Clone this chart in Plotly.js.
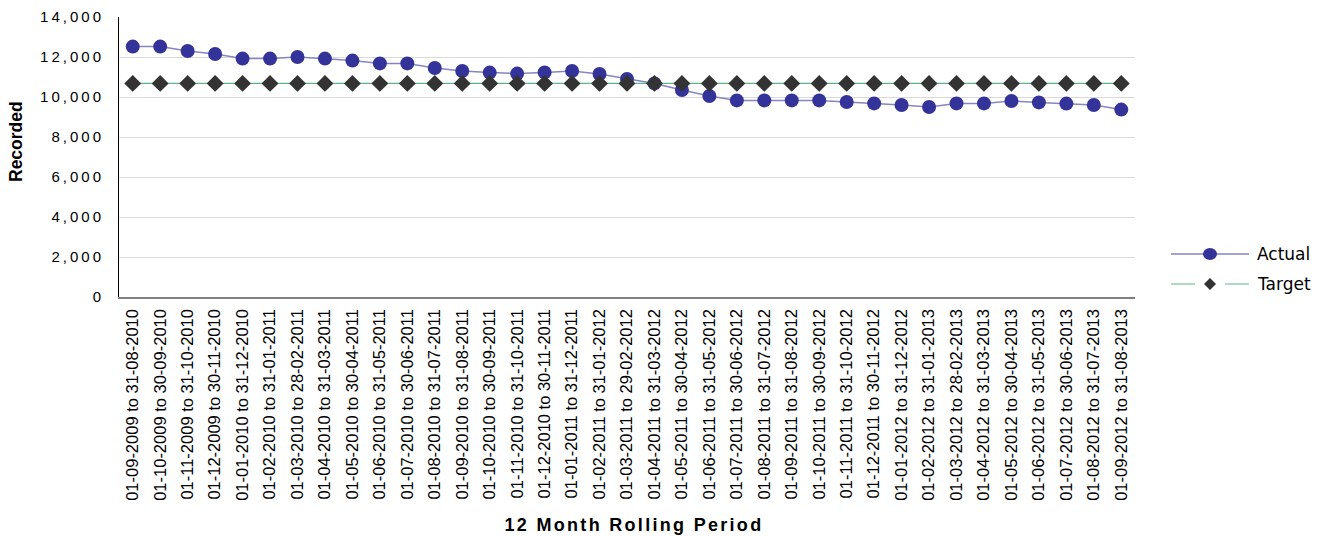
<!DOCTYPE html>
<html>
<head>
<meta charset="utf-8">
<script src="https://cdn.plot.ly/plotly-3.0.1.min.js"></script>
<style>
html,body{margin:0;padding:0;background:#fff;}
#chart{width:1329px;height:536px;}
.ytick text{letter-spacing:3px;}
.annotation[data-index="1"] .annotation-text{letter-spacing:2.3px;}
</style>
</head>
<body>
<div id="chart"></div>
<script>
const periods = [
"01-09-2009 to 31-08-2010","01-10-2009 to 30-09-2010","01-11-2009 to 31-10-2010","01-12-2009 to 30-11-2010",
"01-01-2010 to 31-12-2010","01-02-2010 to 31-01-2011","01-03-2010 to 28-02-2011","01-04-2010 to 31-03-2011",
"01-05-2010 to 30-04-2011","01-06-2010 to 31-05-2011","01-07-2010 to 30-06-2011","01-08-2010 to 31-07-2011",
"01-09-2010 to 31-08-2011","01-10-2010 to 30-09-2011","01-11-2010 to 31-10-2011","01-12-2010 to 30-11-2011",
"01-01-2011 to 31-12-2011","01-02-2011 to 31-01-2012","01-03-2011 to 29-02-2012","01-04-2011 to 31-03-2012",
"01-05-2011 to 30-04-2012","01-06-2011 to 31-05-2012","01-07-2011 to 30-06-2012","01-08-2011 to 31-07-2012",
"01-09-2011 to 31-08-2012","01-10-2011 to 30-09-2012","01-11-2011 to 31-10-2012","01-12-2011 to 30-11-2012",
"01-01-2012 to 31-12-2012","01-02-2012 to 31-01-2013","01-03-2012 to 28-02-2013","01-04-2012 to 31-03-2013",
"01-05-2012 to 30-04-2013","01-06-2012 to 31-05-2013","01-07-2012 to 30-06-2013","01-08-2012 to 31-07-2013",
"01-09-2012 to 31-08-2013"
];
const actual = [12520,12520,12300,12150,11920,11920,12000,11920,11820,11680,11680,11450,11300,11220,11170,11230,
  11300,11150,10900,10680,10350,10050,9830,9830,9830,9830,9750,9680,9600,9500,9680,9680,9800,9730,9670,9600,9370];
const target = periods.map(() => 10680);
const seriesNames = ['Actual', 'Target'];
const yTitle = 'Recorded';
const xTitle = '12 Month Rolling Period';

const ML = 119, MR = 194, MT = 17, MB = 239, W = 1329, H = 536;
const PW = W - ML - MR, PH = H - MT - MB;
const px = v => (v - ML) / PW;
const py = v => (H - MB - v) / PH;

const actualLine = '#8585c2', actualMarker = '#333399';
const targetLine = '#5fb38a', targetMarker = '#333333';

const data = [
  {x: periods, y: actual, name: seriesNames[0], type: 'scatter', mode: 'lines+markers',
   line: {color: actualLine, width: 1.5},
   marker: {symbol: 'circle', size: 14, color: actualMarker}},
  {x: periods, y: target, name: seriesNames[1], type: 'scatter', mode: 'lines+markers',
   line: {color: targetLine, width: 1.2},
   marker: {symbol: 'diamond', size: 13, color: targetMarker}}
];

const legY = [254, 284];
const layout = {
  width: W, height: H,
  margin: {l: ML, r: MR, t: MT, b: MB},
  paper_bgcolor: '#fff', plot_bgcolor: '#fff',
  showlegend: false,
  xaxis: {
    type: 'category', tickangle: -90, showgrid: false, ticks: '',
    showline: true, linecolor: '#808080', linewidth: 1.5,
    tickfont: {family: 'Liberation Sans, Arial, sans-serif', size: 16.5, color: '#000'},
    ticklabelstandoff: 4,
    range: [-0.5, 36.5]
  },
  yaxis: {
    range: [0, 14000], dtick: 2000, tickformat: ',d',
    showgrid: true, gridcolor: '#d9d9d9', gridwidth: 1,
    showline: true, linecolor: '#000', linewidth: 1, zeroline: false, ticks: '',
    tickfont: {family: 'Liberation Sans, Arial, sans-serif', size: 15, color: '#000'},
    ticklabelstandoff: 11
  },
  annotations: [
    {text: '<b>' + yTitle + '</b>', xref: 'paper', yref: 'paper', x: px(16), y: py(142),
     xanchor: 'center', yanchor: 'middle', textangle: -90, showarrow: false,
     font: {family: 'Liberation Sans, Arial, sans-serif', size: 17.5, color: '#000'}},
    {text: '<b>' + xTitle + '</b>', xref: 'paper', yref: 'paper', x: px(634), y: py(525),
     xanchor: 'center', yanchor: 'middle', showarrow: false,
     font: {family: 'Liberation Sans, Arial, sans-serif', size: 18, color: '#000'}},
    {text: seriesNames[0], xref: 'paper', yref: 'paper', x: px(1255), y: py(legY[0]),
     xanchor: 'left', yanchor: 'middle', showarrow: false,
     font: {family: 'DejaVu Sans, sans-serif', size: 17, color: '#000'}},
    {text: seriesNames[1], xref: 'paper', yref: 'paper', x: px(1255), y: py(legY[1]),
     xanchor: 'left', yanchor: 'middle', showarrow: false,
     font: {family: 'DejaVu Sans, sans-serif', size: 17, color: '#000'}}
  ],
  shapes: [
    {type: 'line', xref: 'paper', yref: 'paper', x0: px(1171), x1: px(1249), y0: py(legY[0]), y1: py(legY[0]),
     line: {color: actualLine, width: 1.5}},
    {type: 'circle', xref: 'paper', yref: 'paper', xsizemode: 'pixel', ysizemode: 'pixel',
     xanchor: px(1210), yanchor: py(legY[0]), x0: -7, x1: 7, y0: -6, y1: 6,
     fillcolor: actualMarker, line: {width: 0}},
    {type: 'line', xref: 'paper', yref: 'paper', x0: px(1171), x1: px(1249), y0: py(legY[1]), y1: py(legY[1]),
     line: {color: targetLine, width: 1.2, dash: '24px,10px,10px,10px'}},
    {type: 'path', xref: 'paper', yref: 'paper', xsizemode: 'pixel', ysizemode: 'pixel',
     xanchor: px(1210), yanchor: py(legY[1]), path: 'M -6 0 L 0 6 L 6 0 L 0 -6 Z',
     fillcolor: targetMarker, line: {width: 0}}
  ]
};
Plotly.newPlot('chart', data, layout, {displayModeBar: false, staticPlot: true});
</script>
</body>
</html>
